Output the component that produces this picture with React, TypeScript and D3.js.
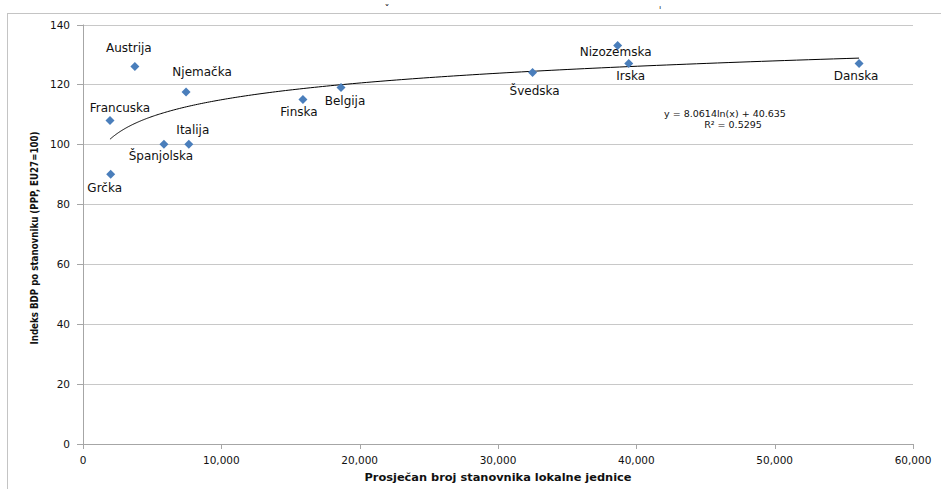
import React from "react";
import * as d3 from "d3";

const countries = ["Austrija", "Njemačka", "Francuska", "Italija", "Španjolska", "Grčka", "Finska", "Belgija", "Švedska", "Nizozemska", "Irska", "Danska"];
const population = [3750, 7450, 1950, 7650, 5850, 2000, 15900, 18650, 32500, 38650, 39450, 56100];
const gdpIndex = [126, 117.5, 108, 100, 100, 90, 115, 119, 124, 133, 127, 127];
// label offsets (dx, dy) relative to the marker
const labelDx = [-6, 16, 10, 4, -3, -6, -4, 4, 2, -2, 2, -3];
const labelDy = [-14, -16, -8, -10, 16, 18, 17, 18, 23, 11, 17, 17];

const xTicks = [0, 10000, 20000, 30000, 40000, 50000, 60000];
const yTicks = [0, 20, 40, 60, 80, 100, 120, 140];
const trendA = 8.0614;
const trendB = 40.635;
const eqText = "y = 8.0614ln(x) + 40.635";
const r2Text = "R² = 0.5295";
const xTitle = "Prosječan broj stanovnika lokalne jednice";
const yTitle = "Indeks BDP po stanovniku (PPP, EU27=100)";

const W = 941;
const H = 489;
const left = 83;
const right = 913;
const top = 24.5;
const bottom = 444;

export default function App() {
  const x = d3.scaleLinear().domain([0, 60000]).range([left, right]);
  const y = d3.scaleLinear().domain([0, 140]).range([bottom, top]);
  const fmt = d3.format(",");

  const xmin = d3.min(population) as number;
  const xmax = d3.max(population) as number;
  const samples = d3.range(0, 201).map((i) => xmin * Math.pow(xmax / xmin, i / 200));
  const trend = d3
    .line<number>()
    .x((v) => x(v))
    .y((v) => y(trendA * Math.log(v) + trendB))(samples) as string;

  const diamond = (cx: number, cy: number) =>
    `M${cx},${cy - 4.5}L${cx + 4.5},${cy}L${cx},${cy + 4.5}L${cx - 4.5},${cy}Z`;

  const font = "'DejaVu Sans', Verdana, sans-serif";

  return (
    <svg width={W} height={H} style={{ position: "absolute", left: 0, top: 0, background: "#fff" }}>
      <rect x={7.5} y={13.5} width={1200} height={1200} fill="#fff" stroke="#c4c4c4" strokeWidth={1} />
      <text x={387} y={13} fontSize={10} fontFamily={font} fill="#111" textAnchor="middle">ˇ</text>
      <text x={660} y={14} fontSize={10} fontFamily={font} fill="#111" textAnchor="middle">ˈ</text>

      {yTicks.map((t) => (
        <g key={"y" + t}>
          {t > 0 && (
            <line x1={left} x2={right} y1={Math.round(y(t)) + 0.5} y2={Math.round(y(t)) + 0.5} stroke="#c8c8c8" strokeWidth={1} />
          )}
          <line x1={left - 6} x2={left} y1={Math.round(y(t)) + 0.5} y2={Math.round(y(t)) + 0.5} stroke="#a6a6a6" />
          <text x={70} y={y(t) + 4} fontSize={10.5} fontFamily={font} fill="#111" textAnchor="end">
            {t}
          </text>
        </g>
      ))}

      {xTicks.map((t) => (
        <g key={"x" + t}>
          <line x1={Math.round(x(t)) + 0.5} x2={Math.round(x(t)) + 0.5} y1={bottom} y2={bottom + 5} stroke="#a6a6a6" />
          <text x={x(t)} y={464} fontSize={10.5} fontFamily={font} fill="#111" textAnchor="middle">
            {fmt(t)}
          </text>
        </g>
      ))}

      <line x1={left + 0.5} x2={left + 0.5} y1={top} y2={bottom} stroke="#a6a6a6" />
      <line x1={left} x2={right} y1={bottom + 0.5} y2={bottom + 0.5} stroke="#a6a6a6" />

      <path d={trend} fill="none" stroke="#000" strokeWidth={1} />

      {population.map((p, i) => (
        <path key={"m" + i} d={diamond(x(p), y(gdpIndex[i]))} fill="#4a7ebb" />
      ))}

      {population.map((p, i) => (
        <text
          key={"l" + i}
          x={x(p) + labelDx[i]}
          y={y(gdpIndex[i]) + labelDy[i]}
          fontSize={12}
          fontFamily={font}
          fill="#111"
          textAnchor="middle"
        >
          {countries[i]}
        </text>
      ))}

      <text x={725} y={117} fontSize={9.5} fontFamily={font} fill="#111" textAnchor="middle">
        {eqText}
      </text>
      <text x={733} y={128} fontSize={9.5} fontFamily={font} fill="#111" textAnchor="middle">
        {r2Text}
      </text>

      <text x={498} y={481} fontSize={10.5} fontWeight="bold" fontFamily={font} fill="#111" textAnchor="middle" textLength={267} lengthAdjust="spacingAndGlyphs">
        {xTitle}
      </text>
      <text
        transform={`translate(38,238) rotate(-90)`}
        fontSize={10.5}
        fontWeight="bold"
        fontFamily={font}
        fill="#111"
        textAnchor="middle"
        textLength={213}
        lengthAdjust="spacingAndGlyphs"
      >
        {yTitle}
      </text>
    </svg>
  );
}
